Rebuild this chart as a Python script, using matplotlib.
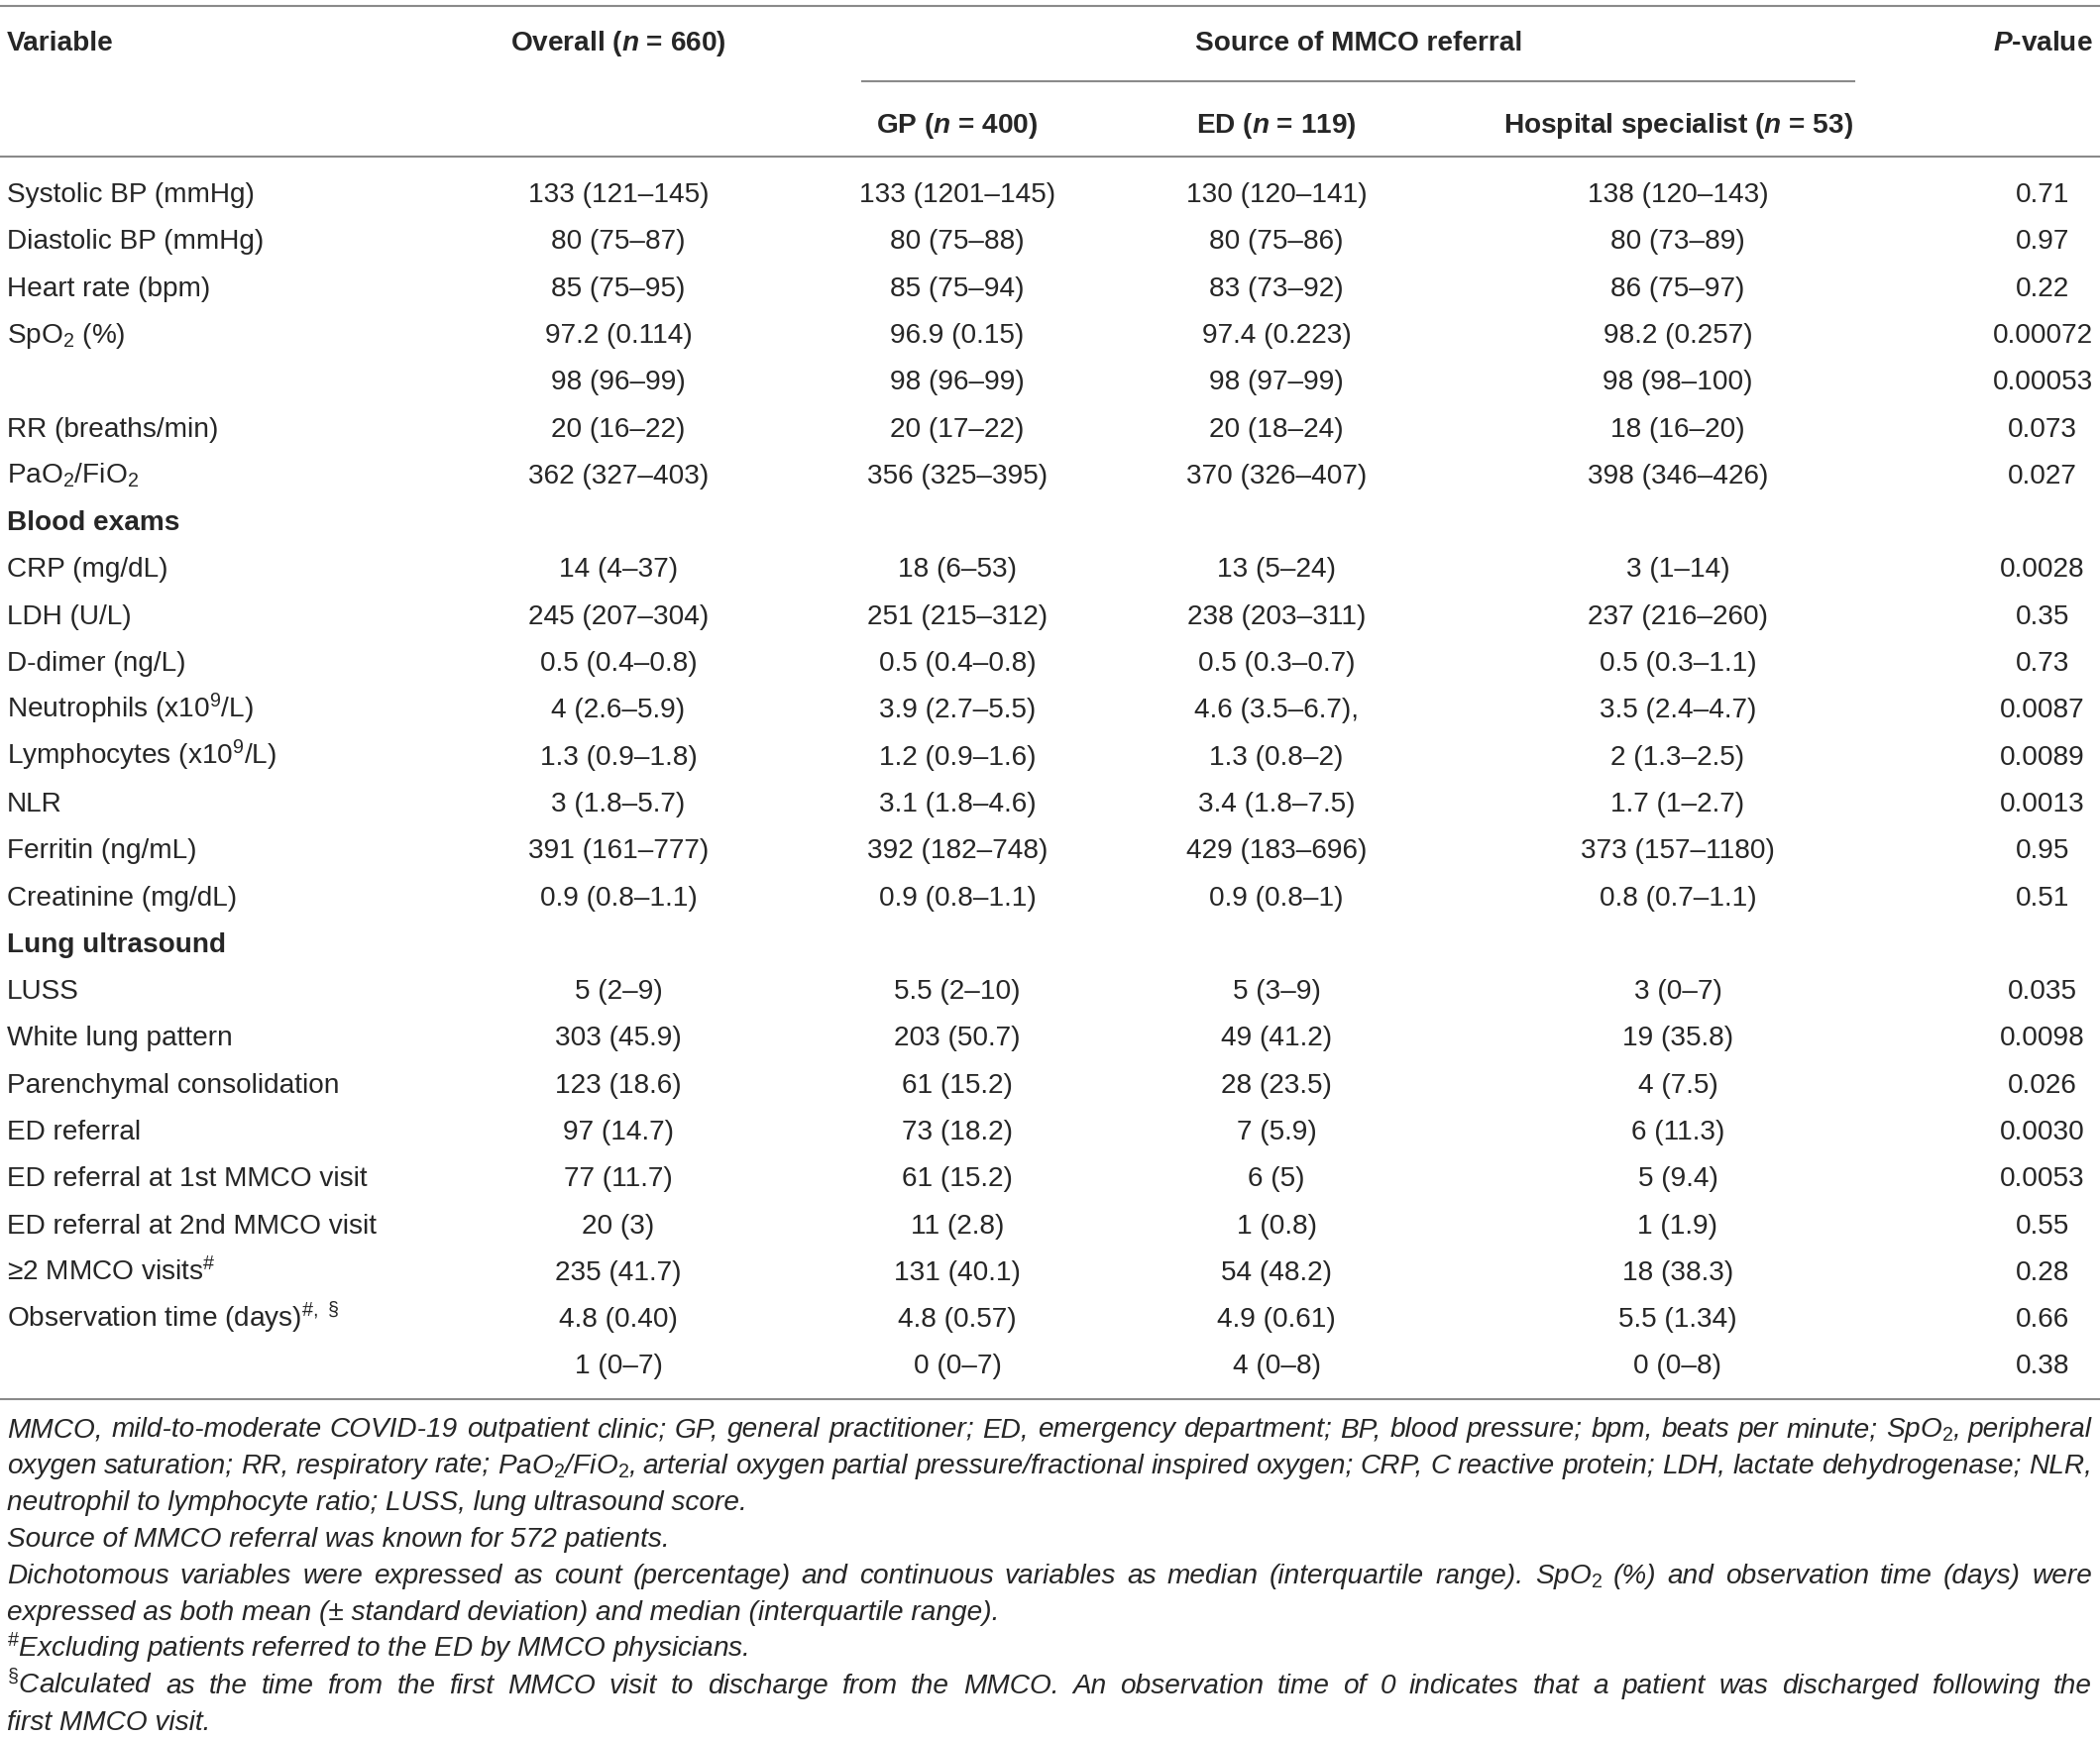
import matplotlib
matplotlib.use("Agg")
import matplotlib.pyplot as plt

plt.rcParams['font.family'] = ['Liberation Sans', 'DejaVu Sans']
plt.rcParams['mathtext.fontset'] = 'custom'
plt.rcParams['mathtext.rm'] = 'Liberation Sans'
plt.rcParams['mathtext.it'] = 'Liberation Sans:italic:bold'
plt.rcParams['mathtext.bf'] = 'Liberation Sans:bold'

# table content
variables = [
    "Systolic BP (mmHg)", "Diastolic BP (mmHg)", "Heart rate (bpm)", "SpO$_2$ (%)", "",
    "RR (breaths/min)", "PaO$_2$/FiO$_2$", "Blood exams", "CRP (mg/dL)", "LDH (U/L)",
    "D-dimer (ng/L)", "Neutrophils (x10$^9$/L)", "Lymphocytes (x10$^9$/L)", "NLR",
    "Ferritin (ng/mL)", "Creatinine (mg/dL)", "Lung ultrasound", "LUSS",
    "White lung pattern", "Parenchymal consolidation", "ED referral",
    "ED referral at 1st MMCO visit", "ED referral at 2nd MMCO visit",
    "≥2 MMCO visits$^{\\#}$", "Observation time (days)$^{\\#,\\ §}$", "",
]
section_rows = ["Blood exams", "Lung ultrasound"]

overall = [
    "133 (121–145)", "80 (75–87)", "85 (75–95)", "97.2 (0.114)", "98 (96–99)",
    "20 (16–22)", "362 (327–403)", "", "14 (4–37)", "245 (207–304)",
    "0.5 (0.4–0.8)", "4 (2.6–5.9)", "1.3 (0.9–1.8)", "3 (1.8–5.7)",
    "391 (161–777)", "0.9 (0.8–1.1)", "", "5 (2–9)", "303 (45.9)", "123 (18.6)",
    "97 (14.7)", "77 (11.7)", "20 (3)", "235 (41.7)", "4.8 (0.40)", "1 (0–7)",
]
gp = [
    "133 (1201–145)", "80 (75–88)", "85 (75–94)", "96.9 (0.15)", "98 (96–99)",
    "20 (17–22)", "356 (325–395)", "", "18 (6–53)", "251 (215–312)",
    "0.5 (0.4–0.8)", "3.9 (2.7–5.5)", "1.2 (0.9–1.6)", "3.1 (1.8–4.6)",
    "392 (182–748)", "0.9 (0.8–1.1)", "", "5.5 (2–10)", "203 (50.7)", "61 (15.2)",
    "73 (18.2)", "61 (15.2)", "11 (2.8)", "131 (40.1)", "4.8 (0.57)", "0 (0–7)",
]
ed = [
    "130 (120–141)", "80 (75–86)", "83 (73–92)", "97.4 (0.223)", "98 (97–99)",
    "20 (18–24)", "370 (326–407)", "", "13 (5–24)", "238 (203–311)",
    "0.5 (0.3–0.7)", "4.6 (3.5–6.7),", "1.3 (0.8–2)", "3.4 (1.8–7.5)",
    "429 (183–696)", "0.9 (0.8–1)", "", "5 (3–9)", "49 (41.2)", "28 (23.5)",
    "7 (5.9)", "6 (5)", "1 (0.8)", "54 (48.2)", "4.9 (0.61)", "4 (0–8)",
]
hosp = [
    "138 (120–143)", "80 (73–89)", "86 (75–97)", "98.2 (0.257)", "98 (98–100)",
    "18 (16–20)", "398 (346–426)", "", "3 (1–14)", "237 (216–260)",
    "0.5 (0.3–1.1)", "3.5 (2.4–4.7)", "2 (1.3–2.5)", "1.7 (1–2.7)",
    "373 (157–1180)", "0.8 (0.7–1.1)", "", "3 (0–7)", "19 (35.8)", "4 (7.5)",
    "6 (11.3)", "5 (9.4)", "1 (1.9)", "18 (38.3)", "5.5 (1.34)", "0 (0–8)",
]
pvals = [
    "0.71", "0.97", "0.22", "0.00072", "0.00053", "0.073", "0.027", "",
    "0.0028", "0.35", "0.73", "0.0087", "0.0089", "0.0013", "0.95", "0.51", "",
    "0.035", "0.0098", "0.026", "0.0030", "0.0053", "0.55", "0.28", "0.66", "0.38",
]

headers_top = ["Variable", "Overall ($\\mathit{n}$ = 660)", "Source of MMCO referral", "$\\mathit{P}$-value"]
headers_sub = ["GP ($\\mathit{n}$ = 400)", "ED ($\\mathit{n}$ = 119)", "Hospital specialist ($\\mathit{n}$ = 53)"]

# footnote lines, (text, justified)
notes = [
    ("MMCO, mild-to-moderate COVID-19 outpatient clinic; GP, general practitioner; ED, emergency department; BP, blood pressure; bpm, beats per minute; SpO$_2$, peripheral", True),
    ("oxygen saturation; RR, respiratory rate; PaO$_2$/FiO$_2$, arterial oxygen partial pressure/fractional inspired oxygen; CRP, C reactive protein; LDH, lactate dehydrogenase; NLR,", True),
    ("neutrophil to lymphocyte ratio; LUSS, lung ultrasound score.", False),
    ("Source of MMCO referral was known for 572 patients.", False),
    ("Dichotomous variables were expressed as count (percentage) and continuous variables as median (interquartile range). SpO$_2$ (%) and observation time (days) were", True),
    ("expressed as both mean (± standard deviation) and median (interquartile range).", False),
    ("$^{\\#}$Excluding patients referred to the ED by MMCO physicians.", False),
    ("$^{§}$Calculated as the time from the first MMCO visit to discharge from the MMCO. An observation time of 0 indicates that a patient was discharged following the", True),
    ("first MMCO visit.", False),
]

W, H = 2119, 1755
FS = 20.2
TXT = "#262626"
LINE = "#8a8a8a"

col_x = [624, 966, 1288, 1693, 2061]
row0 = 204
row_h = 47.3

fig = plt.figure(figsize=(W / 100, H / 100), dpi=100)
ax = fig.add_axes([0, 0, 1, 1])
ax.set_xlim(0, W)
ax.set_ylim(H, 0)
ax.axis("off")

# rules
ax.plot([0, W], [6, 6], color=LINE, lw=1.5)
ax.plot([870, 1871], [82, 82], color=LINE, lw=1.5)
ax.plot([0, W], [158, 158], color=LINE, lw=1.5)
ax.plot([0, W], [1412, 1412], color=LINE, lw=1.5)

# header
hk = dict(fontsize=FS, fontweight="bold", color=TXT, va="baseline")
ax.text(7, 51, headers_top[0], ha="left", **hk)
ax.text(col_x[0], 51, headers_top[1], ha="center", **hk)
ax.text(1371, 51, headers_top[2], ha="center", **hk)
ax.text(col_x[4], 51, headers_top[3], ha="center", **hk)
for x, h in zip(col_x[1:4], headers_sub):
    ax.text(x, 134, h, ha="center", **hk)

# body
for i, var in enumerate(variables):
    y = row0 + i * row_h
    bold = var in section_rows
    ax.text(7, y, var, ha="left", va="baseline", fontsize=FS, color=TXT,
            fontweight="bold" if bold else "normal")
    for x, col in zip(col_x, [overall, gp, ed, hosp, pvals]):
        if col[i]:
            ax.text(x, y, col[i], ha="center", va="baseline", fontsize=FS, color=TXT)

# footnotes
renderer = fig.canvas.get_renderer()
nk = dict(fontsize=FS, fontstyle="italic", color=TXT, va="baseline", ha="left")
for j, (line, just) in enumerate(notes):
    y = 1450 + j * 37
    if not just:
        ax.text(7, y, line, **nk)
        continue
    words = line.split(" ")
    texts = [ax.text(7, y, w, **nk) for w in words]
    widths = [t.get_window_extent(renderer).width for t in texts]
    gap = (2111 - 7 - sum(widths)) / (len(words) - 1)
    x = 7
    for t, w in zip(texts, widths):
        t.set_x(x)
        x += w + gap

fig.savefig("out.png", dpi=100, facecolor="white")
